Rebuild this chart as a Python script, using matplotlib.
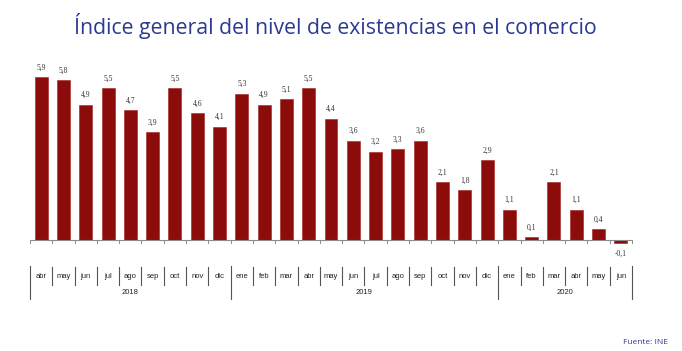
import matplotlib
matplotlib.use("Agg")
import matplotlib.pyplot as plt
from matplotlib.transforms import blended_transform_factory

months = ["abr", "may", "jun", "jul", "ago", "sep", "oct", "nov", "dic",
          "ene", "feb", "mar", "abr", "may", "jun", "jul", "ago", "sep", "oct", "nov", "dic",
          "ene", "feb", "mar", "abr", "may", "jun"]
values = [5.9, 5.8, 4.9, 5.5, 4.7, 3.9, 5.5, 4.6, 4.1,
          5.3, 4.9, 5.1, 5.5, 4.4, 3.6, 3.2, 3.3, 3.6, 2.1, 1.8, 2.9,
          1.1, 0.1, 2.1, 1.1, 0.4, -0.1]
years = ["2018", "2019", "2020"]
year_counts = [9, 12, 6]

W, H = 682, 351
fig = plt.figure(figsize=(W / 100, H / 100), dpi=100)
ax_left, ax_right = 30, 632
ax_top, ax_bot = 55, 250
ax = fig.add_axes([ax_left / W, 1 - ax_bot / H, (ax_right - ax_left) / W, (ax_bot - ax_top) / H])
n = len(values)
x = list(range(n))
bar_color = "#8C0B0B"
ax.bar(x, values, width=0.58, color=bar_color, edgecolor="#A02020", linewidth=0.4, zorder=2)
ax.set_xlim(-0.5, n - 0.5)
ax.set_ylim(-(250 - 240) / 27.6, (240 - 55) / 27.6)
ax.axis("off")

# baseline and ticks
ax.axhline(0, color="#8a8a8a", linewidth=0.8, zorder=3)
tb = blended_transform_factory(ax.transData, fig.transFigure)
for i in range(n + 1):
    b = i - 0.5
    ax.plot([b, b], [0, -0.1], color="#8a8a8a", linewidth=0.7, clip_on=False)

for xi, v in zip(x, values):
    label = f"{v:.1f}".replace(".", ",")
    if v >= 0:
        ax.annotate(label, (xi, v), xytext=(0, 4), textcoords="offset points",
                    ha="center", va="bottom", fontsize=5.5, family="Liberation Serif", color="#333333")
    else:
        ax.annotate(label, (xi, v), xytext=(0, -5), textcoords="offset points",
                    ha="center", va="top", fontsize=5.5, family="Liberation Serif", color="#333333")

def fy(py):
    return 1 - py / H

# month labels and separators
for i, m in enumerate(months):
    fig.text(i, fy(276), m, transform=tb, ha="center", va="center",
             fontsize=5.5, family="Liberation Sans", color="#222222")
year_bounds = [0]
for c in year_counts:
    year_bounds.append(year_bounds[-1] + c)
for i in range(n + 1):
    b = i - 0.5
    if i in year_bounds:
        fig.lines.append(plt.Line2D([b, b], [fy(266), fy(299)], transform=tb, color="#555555", linewidth=0.8))
    else:
        fig.lines.append(plt.Line2D([b, b], [fy(267), fy(285)], transform=tb, color="#555555", linewidth=0.8))
for k, yname in enumerate(years):
    center = (year_bounds[k] + year_bounds[k + 1]) / 2 - 0.5
    fig.text(center, fy(292), yname, transform=tb, ha="center", va="center",
             fontsize=5.5, family="Liberation Sans", color="#222222")

fig.text(335 / W, fy(26), "Índice general del nivel de existencias en el comercio",
         ha="center", va="center", fontsize=15.3, family="Open Sans", color="#2B3A8F")
fig.text(668 / W, fy(343), "Fuente: INE", ha="right", va="center",
         fontsize=6, family="Open Sans", color="#2B3A8F")

fig.savefig("out.png", dpi=100, facecolor="white")
